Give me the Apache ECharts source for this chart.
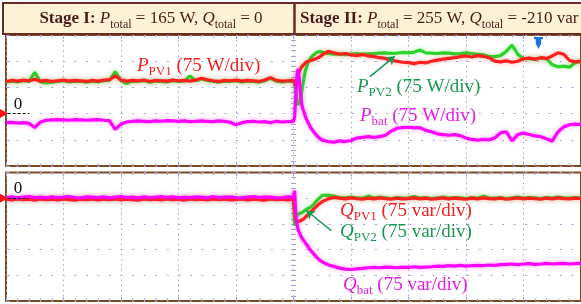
<!DOCTYPE html>
<html><head><meta charset="utf-8">
<script src="https://cdn.jsdelivr.net/npm/echarts@6/dist/echarts.min.js"></script>
<style>html,body{margin:0;padding:0;background:#fff;}#c{width:581px;height:304px;}</style>
</head><body><div id="c"></div>
<script>
// time axis in screen divisions (10 div across, trigger at centre)
const t = [
-5,-4.9,-4.8,-4.7,-4.6,-4.5,-4.4,-4.3,-4.2,-4.1,
-4,-3.9,-3.8,-3.7,-3.6,-3.5,-3.4,-3.3,-3.2,-3.1,
-3,-2.9,-2.8,-2.7,-2.6,-2.5,-2.4,-2.3,-2.2,-2.1,
-2,-1.9,-1.8,-1.7,-1.6,-1.5,-1.4,-1.3,-1.2,-1.1,
-1,-0.9,-0.8,-0.7,-0.6,-0.5,-0.4,-0.3,-0.2,-0.1,
0,
0.02,0.04,0.06,0.08,0.1,0.12,0.15,0.18,0.21,0.25,0.3,0.35,0.4,0.45,
0.5,0.6,0.7,0.8,0.9,1,1.1,1.2,1.3,1.4,
1.5,1.6,1.7,1.8,1.9,2,2.1,2.2,2.3,2.4,
2.5,2.6,2.7,2.8,2.9,3,3.1,3.2,3.3,3.4,
3.5,3.6,3.7,3.8,3.9,4,4.1,4.2,4.3,4.4,
4.5,4.6,4.7,4.8,4.9,5];

// top panel (W)
const pPV1 = [
92,95,93,96,94,98,93,95,92,94,
96,93,95,94,92,95,93,96,97,108,
96,93,95,94,96,92,95,94,93,96,
94,95,93,96,101,97,94,92,95,94,
96,93,95,94,92,96,103,95,93,94,
95,
88,80,95,110,120,128,135,140,146,150,152,155,158,162,
168,178,174,170,172,168,166,169,165,163,
160,158,152,150,147,146,143,147,145,150,
153,156,158,160,163,165,162,166,164,160,
150,148,151,147,150,157,159,156,160,158,
165,174,170,152,148,150];
const pPV2 = [
90,93,91,94,92,118,91,88,90,92,
94,91,93,92,90,93,91,94,95,120,
94,86,93,92,94,90,93,92,91,94,
92,93,108,94,99,95,92,90,93,92,
94,91,93,92,90,94,101,93,91,92,
93,
85,60,40,25,20,35,70,100,125,145,160,168,175,178,
176,172,170,171,169,170,172,170,171,172,
173,174,172,173,175,174,176,182,174,173,
172,174,173,171,172,174,172,170,168,164,
163,166,178,196,170,157,158,155,159,157,
140,134,136,133,146,149];
const pBat = [
-26,-25,-27,-26,-28,-40,-24,-19,-18,-17,
-18,-19,-17,-18,-19,-18,-17,-19,-20,-45,
-30,-24,-22,-21,-22,-23,-21,-22,-20,-21,
-22,-21,-23,-22,-21,-22,-23,-21,-22,-25,
-32,-26,-23,-22,-24,-23,-26,-22,-24,-23,
-22,
-10,50,110,128,100,60,20,5,-10,-25,-40,-52,-62,-70,
-76,-80,-82,-78,-80,-77,-70,-68,-66,-68,
-66,-62,-50,-42,-40,-39,-41,-40,-48,-52,
-58,-60,-62,-60,-63,-70,-74,-76,-74,-75,
-70,-55,-52,-78,-60,-56,-60,-64,-66,-72,
-79,-52,-38,-32,-30,-31];

// bottom panel (var)
const qPV1 = [
-3,-5,-2,-4,-3,-6,-2,-4,-3,-5,
-2,-4,-6,-3,-4,-2,-5,-3,-4,-2,
-5,-3,-4,-6,-2,-4,-3,-5,-2,-4,
-3,-6,-2,-4,-3,-5,-2,-4,-3,-5,
-4,-2,-5,-3,-4,-6,-2,-4,-3,-5,
-3,
-40,-66,-70,-68,-67,-66,-64,-60,-55,-48,-40,-32,-24,-16,
-10,-2,2,0,-2,1,-1,-3,0,-2,
1,-1,-3,0,-2,-1,1,-2,0,-3,
-1,1,-2,0,-1,-3,0,-2,1,-1,
-2,0,-3,-1,1,-2,0,-1,-3,0,
-2,1,-1,-2,0,-1];
const qPV2 = [
-2,-1,-3,-2,-1,-2,-3,-1,-2,-2,
-1,-3,-2,-2,-1,-3,-2,-1,-2,-3,
-2,-1,-3,-2,-2,-1,-3,-2,-1,-2,
-3,-2,-1,-2,-3,-1,-2,-2,-1,-3,
-2,-1,-3,-2,-1,-2,-3,-1,-2,-2,
-2,
-80,-55,-48,-46,-45,-44,-42,-38,-34,-30,-26,-18,-8,0,
8,9,6,2,1,3,1,0,6,1,
3,1,-1,2,0,1,5,0,2,-1,
1,3,0,2,1,-1,2,0,6,1,
0,2,-1,1,3,0,2,1,-1,2,
0,3,1,0,2,1];
const qBat = [
2,4,1,3,5,2,3,1,4,2,
3,5,2,1,4,3,2,4,1,3,
5,2,3,1,4,2,3,5,2,4,
1,3,2,4,3,1,5,2,3,4,
2,1,3,5,2,4,3,1,2,4,
3,
22,-51,-75,-92,-100,-108,-117,-124,-131,-141,-153,-162,-172,-180,
-186,-194,-199,-204,-207,-208,-206,-205,-203,-202,
-203,-201,-202,-203,-201,-202,-200,-202,-201,-200,
-198,-199,-197,-198,-196,-198,-197,-196,-197,-195,
-196,-194,-193,-192,-194,-192,-191,-193,-192,-190,
-192,-191,-190,-192,-191,-190];

// arrow annotations [from, to] in data units
const arrowP = [[1.33, 106], [1.76, 164]];
const arrowQ = [[0.66, -95], [0.225, -36]];
const triggerAt = [4.26, 225];

const SERIF = '"Liberation Serif", "DejaVu Serif", serif';
const RED = '#ff1f1f', GREEN = '#2ad42a', MAG = '#ff00ff';
const RED_T = '#f51d1d', GREEN_T = '#17994c', MAG_T = '#e41be4';
const GRIDC = '#a3a3d6', BROWN = '#7a4a22', HEAD = '#6e2b22';

function richSet(color, size) {
  const lh = size + 6, ss = Math.round(size * 0.7);
  return {
    b: {fontFamily: SERIF, fontSize: size, fontWeight: 'bold', fill: color, color: color, lineHeight: lh},
    n: {fontFamily: SERIF, fontSize: size, fill: color, color: color, lineHeight: lh},
    i: {fontFamily: SERIF, fontSize: size, fontStyle: 'italic', fill: color, color: color, lineHeight: lh},
    s: {fontFamily: SERIF, fontSize: ss, fill: color, color: color, lineHeight: ss + 2, verticalAlign: 'bottom'}
  };
}
function txt(text, x, y, color, size, align) {
  return {type: 'text', x: x, y: y, z: 120, silent: true,
    style: {text: text, rich: richSet(color, size), align: align || 'left', verticalAlign: 'middle', fontFamily: SERIF, fontSize: size, fill: color}};
}
const pairs = v => t.map((x, i) => [x, v[i]]);

function xAx(gi, pos, split) {
  return {type: 'value', gridIndex: gi, min: -5, max: 5, interval: 1, position: pos,
    axisLine: {show: false, onZero: false}, axisLabel: {show: false},
    axisTick: {show: true, inside: true, length: 4, lineStyle: {color: GRIDC}},
    minorTick: {show: true, splitNumber: 5, length: 2.5, lineStyle: {color: GRIDC}},
    splitLine: {show: split, lineStyle: {color: GRIDC, width: 1, type: [1.5, 3.6]}}};
}
function yAx(gi, min, max, pos, onZero, split, minor, len) {
  return {type: 'value', gridIndex: gi, min: min, max: max, interval: 75, position: pos,
    axisLine: {show: false, onZero: onZero}, axisLabel: {show: false},
    axisTick: {show: true, inside: true, length: len, lineStyle: {color: GRIDC}},
    minorTick: {show: minor, splitNumber: 5, length: len, lineStyle: {color: GRIDC}},
    splitLine: {show: split, lineStyle: {color: GRIDC, width: 1, type: [2, 9.56], dashOffset: 1}}};
}
function trace(data, color, glow, xi, yi, z, extra) {
  return Object.assign({type: 'line', xAxisIndex: xi, yAxisIndex: yi, data: pairs(data), z: z,
    showSymbol: false, symbol: 'none', animation: false, silent: true, clip: false,
    lineStyle: {color: color, width: 3.2, shadowColor: glow, shadowBlur: 5}}, extra || {});
}
function zeroMarks() {
  return {
    markLine: {silent: true, symbol: ['none', 'none'], animation: false,
      lineStyle: {color: '#000', type: [3, 2], width: 1},
      label: {show: true, formatter: '0', position: 'insideStartTop', color: '#111', fontFamily: SERIF, fontSize: 17, distance: [6, 1]},
      data: [[{coord: [-4.97, 0]}, {coord: [-4.6, 0]}]]},
    markPoint: {silent: true, animation: false, symbol: 'triangle', symbolRotate: -90, symbolSize: [9, 8], symbolOffset: [-2, 0],
      itemStyle: {color: '#ff1010'}, label: {show: false}, data: [{coord: [-5, 0]}]}
  };
}
function arrowMark(a) {
  return {markLine: {silent: true, animation: false, symbol: ['none', 'arrow'], symbolSize: 8,
    lineStyle: {color: GREEN_T, width: 1.5, type: 'solid'}, label: {show: false},
    data: [[{coord: a[0]}, {coord: a[1]}]]}};
}

const chart = echarts.init(document.getElementById('c'), null, {renderer: 'canvas'});
chart.setOption({
  animation: false,
  backgroundColor: '#ffffff',
  grid: [
    {left: 6, top: 35, width: 578, height: 131, show: true, borderColor: BROWN, borderWidth: 2, backgroundColor: '#fff'},
    {left: 6, top: 172.5, width: 578, height: 128.5, show: true, borderColor: BROWN, borderWidth: 2, backgroundColor: '#fff'}
  ],
  xAxis: [xAx(0, 'bottom', true), xAx(0, 'top', false), xAx(1, 'bottom', true), xAx(1, 'top', false)],
  yAxis: [
    yAx(0, -150, 225, 'left', true, true, true, 2.5),
    yAx(0, -150, 225, 'right', true, false, true, 2.5),
    yAx(0, -150, 225, 'left', false, false, false, 4),
    yAx(1, -300, 75, 'left', true, true, true, 2.5),
    yAx(1, -300, 75, 'right', true, false, true, 2.5),
    yAx(1, -300, 75, 'left', false, false, false, 4)
  ],
  series: [
    trace(pPV2, GREEN, 'rgba(42,212,42,0.35)', 0, 0, 2, arrowMark(arrowP)),
    trace(pPV1, RED, 'rgba(255,31,31,0.35)', 0, 0, 3, {markPoint: {silent: true, animation: false,
      symbol: 'path://M0,0 L10,0 L10,2 L8,2 L8,6 L5,11 L2,6 L2,2 L0,2 Z', symbolSize: [9, 12], symbolOffset: [0, 8],
      itemStyle: {color: '#1f6fe5'}, label: {show: false}, data: [{coord: triggerAt}]}}),
    trace(pBat, MAG, 'rgba(255,0,255,0.35)', 0, 0, 4, zeroMarks()),
    trace(qPV2, GREEN, 'rgba(42,212,42,0.35)', 2, 3, 2, arrowMark(arrowQ)),
    trace(qPV1, RED, 'rgba(255,31,31,0.35)', 2, 3, 3),
    trace(qBat, MAG, 'rgba(255,0,255,0.35)', 2, 3, 4, zeroMarks())
  ],
  graphic: [
    {type: 'rect', z: 100, silent: true, shape: {x: 3, y: 3, width: 620, height: 31},
      style: {fill: '#fdf1d6', stroke: HEAD, lineWidth: 2}},
    {type: 'line', z: 101, silent: true, shape: {x1: 294.5, y1: 3, x2: 294.5, y2: 34},
      style: {stroke: HEAD, lineWidth: 2.5}},
    txt('{b|Stage I:} {i|P}{s|total}{n| = 165 W, }{i|Q}{s|total}{n| = 0}', 151, 19, '#4a1a18', 17, 'center'),
    txt('{b|Stage II:} {i|P}{s|total}{n| = 255 W, }{i|Q}{s|total}{n| = -210 var}', 300, 19, '#4a1a18', 17, 'left'),
    txt('{i|P}{s|PV1}{n| (75 W/div)}', 137, 66, RED_T, 19),
    txt('{i|P}{s|PV2}{n| (75 W/div)}', 357, 87, GREEN_T, 19),
    txt('{i|P}{s|bat}{n| (75 W/div)}', 360, 116, MAG_T, 19),
    txt('{i|Q}{s|PV1}{n| (75 var/div)}', 340, 211, RED_T, 19),
    txt('{i|Q}{s|PV2}{n| (75 var/div)}', 340, 232, GREEN_T, 19),
    txt('{i|Q}{s|bat}{n| (75 var/div)}', 343, 285, MAG_T, 19)
  ]
});
</script></body></html>
